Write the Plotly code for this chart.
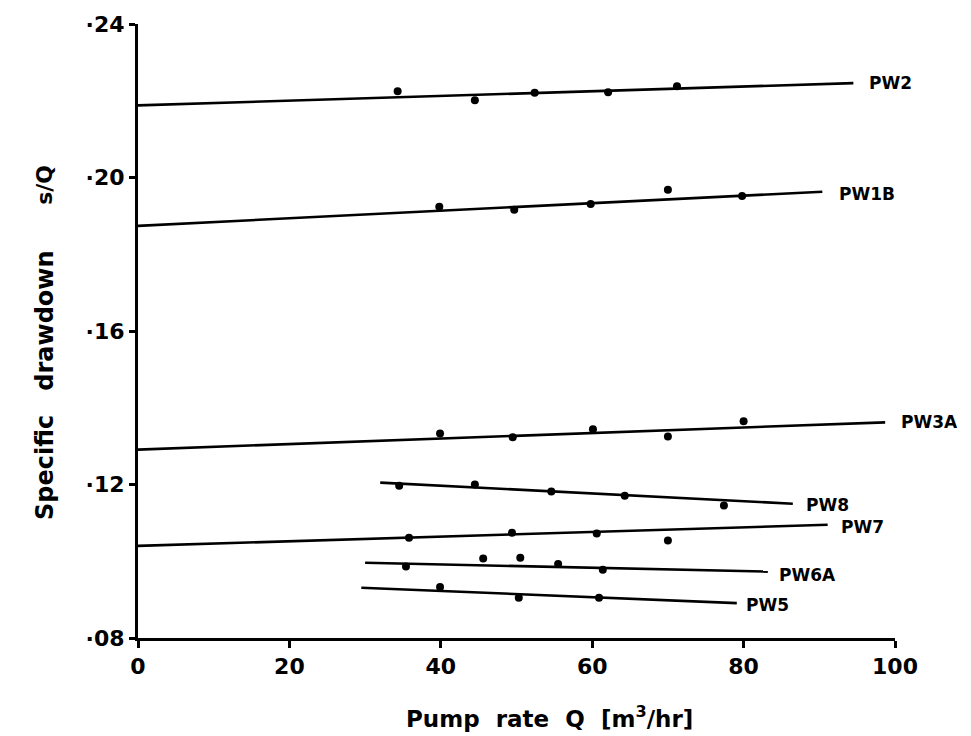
import plotly.graph_objects as go

# ---- data ----
wells = ["PW2", "PW1B", "PW3A", "PW8", "PW7", "PW6A", "PW5"]

pw2_q = [34.3, 44.5, 52.4, 62.1, 71.2]
pw2_s = [0.2225, 0.2201, 0.2221, 0.2222, 0.2238]

pw1b_q = [39.8, 49.7, 59.8, 70.0, 79.8]
pw1b_s = [0.1924, 0.1916, 0.1931, 0.1968, 0.1952]

pw3a_q = [39.9, 49.5, 60.1, 70.0, 80.0]
pw3a_s = [0.1333, 0.1323, 0.1344, 0.1325, 0.1365]

pw8_q = [34.5, 44.5, 54.6, 64.3, 77.4]
pw8_s = [0.1197, 0.1200, 0.1182, 0.1171, 0.1145]

pw7_q = [35.8, 49.4, 60.6, 70.0]
pw7_s = [0.1061, 0.1074, 0.1072, 0.1054]

pw6a_q = [35.4, 45.6, 50.5, 55.5, 61.4]
pw6a_s = [0.0986, 0.1007, 0.1009, 0.0993, 0.0978]

pw5_q = [39.9, 50.3, 60.9]
pw5_s = [0.0933, 0.0905, 0.0905]

# fitted straight lines: start/end Q and s/Q
fit_q0 = [0.0, 0.0, 0.0, 32.0, 0.0, 30.0, 29.5]
fit_q1 = [94.5, 90.4, 98.7, 86.5, 91.1, 83.2, 79.1]
fit_s0 = [0.2188, 0.1874, 0.1291, 0.1205, 0.1040, 0.0996, 0.0931]
fit_s1 = [0.2246, 0.1963, 0.1362, 0.1150, 0.1095, 0.0973, 0.0891]

y_tickvals = [0.08, 0.12, 0.16, 0.20, 0.24]
y_ticktext = ["·08", "·12", "·16", "·20", "·24"]
x_tickvals = [0, 20, 40, 60, 80, 100]

points = [(pw2_q, pw2_s), (pw1b_q, pw1b_s), (pw3a_q, pw3a_s), (pw8_q, pw8_s),
          (pw7_q, pw7_s), (pw6a_q, pw6a_s), (pw5_q, pw5_s)]

label_dx = [14, 15, 14, 11, 11, 9, 7]
label_dy = [0, -2, 0, -1, -2, -3, -2]

FONT = "DejaVu Sans"

fig = go.Figure()
for i, name in enumerate(wells):
    fig.add_trace(go.Scatter(x=[fit_q0[i], fit_q1[i]], y=[fit_s0[i], fit_s1[i]],
                             mode="lines", line=dict(color="black", width=2.6),
                             showlegend=False, hoverinfo="skip", cliponaxis=False))
    q, s = points[i]
    fig.add_trace(go.Scatter(x=q, y=s, mode="markers", name=name,
                             marker=dict(color="black", size=8),
                             showlegend=False, cliponaxis=False))
    fig.add_annotation(x=fit_q1[i], y=fit_s1[i], text=name, showarrow=False,
                       xanchor="left", yanchor="middle", xshift=label_dx[i],
                       yshift=label_dy[i],
                       font=dict(family=FONT, size=17, color="black",
                                 weight="bold"))

fig.add_annotation(xref="paper", yref="paper", x=-0.123, y=0.412,
                   text="Specific\u2002\u2002drawdown", textangle=-90,
                   showarrow=False, xanchor="center", yanchor="middle",
                   font=dict(family=FONT, size=24, color="black", weight="bold"))
fig.add_annotation(xref="paper", yref="paper", x=-0.123, y=0.738,
                   text="s/Q", textangle=-90,
                   showarrow=False, xanchor="center", yanchor="middle",
                   font=dict(family=FONT, size=22, color="black", weight="bold"))
fig.add_annotation(xref="paper", yref="paper", x=0.544, y=-0.129,
                   text="Pump\u2002\u2009rate\u2002\u2009Q\u2002\u2009[m<sup>3</sup>/hr]",
                   showarrow=False, xanchor="center", yanchor="middle",
                   font=dict(family=FONT, size=23, color="black", weight="bold"))

fig.update_layout(
    width=971, height=736,
    margin=dict(l=138, r=76, t=24, b=98),
    paper_bgcolor="white", plot_bgcolor="white",
    font=dict(family=FONT, color="black"),
    xaxis=dict(range=[0, 100], tickvals=x_tickvals, showgrid=False, zeroline=False,
               showline=True, linecolor="black", linewidth=3,
               ticks="outside", ticklen=7, tickwidth=2.5, tickcolor="black",
               tickfont=dict(family=FONT, size=22, color="black", weight="bold"),
               fixedrange=True),
    yaxis=dict(range=[0.08, 0.24], tickvals=y_tickvals, ticktext=y_ticktext,
               showgrid=False, zeroline=False,
               showline=True, linecolor="black", linewidth=3,
               ticks="outside", ticklen=6, tickwidth=2.5, tickcolor="black",
               tickfont=dict(family=FONT, size=22, color="black", weight="bold"),
               fixedrange=True),
)

fig.write_html("out.html")
